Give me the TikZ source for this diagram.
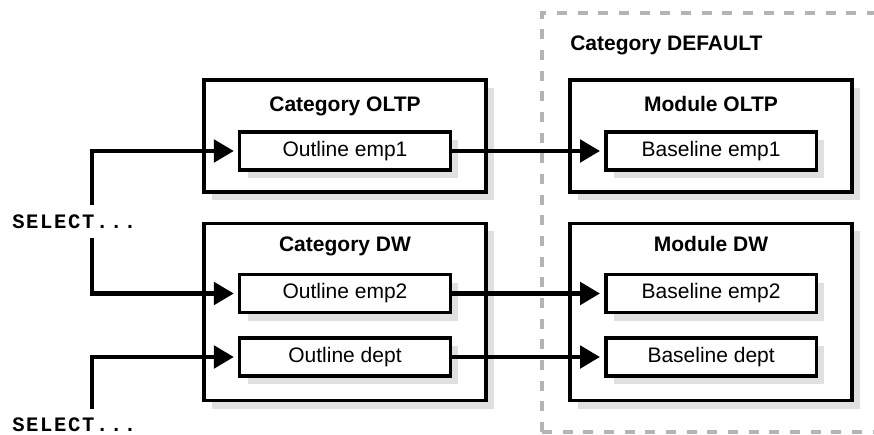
\documentclass[tikz,border=0pt]{standalone}
\usepackage{fontspec}
\setmainfont{Liberation Sans}
\newfontfamily\selfont[LetterSpace=8]{Liberation Mono}
\usetikzlibrary{arrows.meta,positioning,shadows}
\definecolor{shadegray}{RGB}{224,224,224}
\definecolor{dashgray}{RGB}{180,180,180}
\newcommand\boxfont{\fontsize{15.75pt}{19pt}\selectfont}
\tikzset{group/.style={draw,line width=2.6pt,fill=white,minimum width=211.5pt,font=\boxfont,
		drop shadow={shadow xshift=6pt,shadow yshift=-6pt,fill=shadegray,opacity=1}},
	item/.style={group,minimum width=158pt,minimum height=28.5pt},
	heading/.style={anchor=base,font=\boxfont\bfseries},
	query/.style={anchor=west,inner xsep=0pt,inner ysep=6.75pt,
		font=\selfont\bfseries\fontsize{15.4pt}{18pt}\selectfont},
	flow/.style={line width=3.7pt,-{Triangle[length=15pt,width=16.5pt]},shorten >=3pt},
	border/.style={dashgray,line width=3pt,dash pattern=on 7.5pt off 8pt}}

\begin{document}
\begin{tikzpicture}
	[x=0.75pt,y=-0.75pt]
	\useasboundingbox (0,0) rectangle (874,435);
	\clip (0,0) rectangle (874,435);
	% default category
	\draw[border] (542,432) -- (542,13) -- (880,13);
	\draw[border] (542,432) -- (880,432);
	\node[heading,anchor=base west,inner sep=0pt] (catdefault) at (570,51) {Category DEFAULT};
	% categories and modules
	\node[group,minimum height=84pt] (catoltp) at (345,136) {};
	\node[group,minimum height=133pt] (catdw) at (345,312) {};
	\node[group,minimum height=84pt] (modoltp) at (711,136) {};
	\node[group,minimum height=133pt] (moddw) at (711,312) {};
	\node[heading] (catoltpname) at (345,112) {Category OLTP};
	\node[heading] (catdwname) at (345,251.5) {Category DW};
	\node[heading] (modoltpname) at (711,111.5) {Module OLTP};
	\node[heading] (moddwname) at (711,251.5) {Module DW};
	% outlines and baselines
	\node[item] (emp1) at (345,151) {Outline emp1};
	\node[item] (emp2) at (345,293.5) {Outline emp2};
	\node[item] (dept) at (345,357) {Outline dept};
	\node[item,right=114pt of emp1] (baseemp1) {Baseline emp1};
	\node[item,right=114pt of emp2] (baseemp2) {Baseline emp2};
	\node[item,right=114pt of dept] (basedept) {Baseline dept};
	% queries
	\node[query] (sel1) at (12,221.5) {SELECT...};
	\node[query] (sel2) at (12,425) {SELECT...};
	\coordinate (trunk1) at (92,222);
	\coordinate (trunk2) at (92,425);
	\draw[flow] (trunk1 |- sel1.north) |- (emp1.west);
	\draw[flow] (trunk1 |- sel1.south) |- (emp2.west);
	\draw[flow] (trunk2 |- sel2.north) |- (dept.west);
	\draw[flow] (emp1) -- (baseemp1);
	\draw[flow] (emp2) -- (baseemp2);
	\draw[flow] (dept) -- (basedept);
\end{tikzpicture}
\end{document}
